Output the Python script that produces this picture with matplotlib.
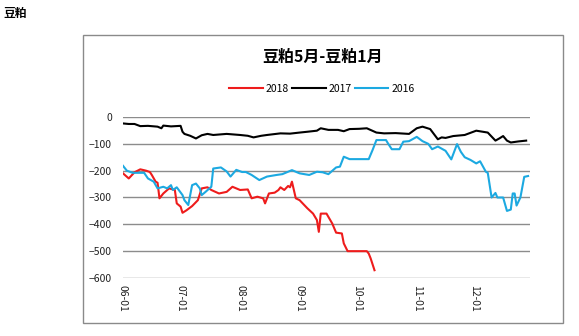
import matplotlib
matplotlib.use("Agg")
import matplotlib.pyplot as plt
import matplotlib.dates as mdates
import pandas as pd
from matplotlib.patches import Rectangle
from matplotlib.lines import Line2D

plt.rcParams['font.family'] = ['Noto Sans CJK SC', 'DejaVu Sans']

# Spread: soybean meal May contract minus January contract, by calendar day
dates_2018 = ["06-01", "06-04", "06-07", "06-10", "06-13", "06-15", "06-16", "06-18", "06-19",
              "06-20", "06-22", "06-25", "06-28", "06-29", "07-01", "07-02", "07-04", "07-07",
              "07-10", "07-12", "07-15", "07-17", "07-21", "07-25", "07-28", "08-01", "08-05",
              "08-07", "08-10", "08-13", "08-14", "08-16", "08-19", "08-21", "08-22", "08-24",
              "08-26", "08-27", "08-28", "08-30", "09-01", "09-05", "09-08", "09-10", "09-11",
              "09-12", "09-15", "09-18", "09-20", "09-23", "09-24", "09-26", "10-06", "10-07",
              "10-08", "10-10"]
values_2018 = [-210, -229, -206, -195, -200, -205, -216, -241, -245,
               -303, -285, -266, -272, -322, -334, -357, -348, -332,
               -310, -266, -262, -272, -285, -279, -260, -272, -270,
               -303, -297, -303, -322, -285, -282, -272, -262, -272,
               -257, -262, -241, -303, -310, -340, -360, -384, -428,
               -360, -360, -397, -431, -434, -471, -500, -500, -509,
               -527, -571]

dates_2017 = ["06-01", "06-04", "06-07", "06-10", "06-14", "06-19", "06-21", "06-22", "06-26",
              "07-01", "07-02", "07-03", "07-06", "07-09", "07-12", "07-15", "07-18", "07-25",
              "08-01", "08-05", "08-08", "08-12", "08-15", "08-22", "08-27", "09-01", "09-05",
              "09-10", "09-12", "09-16", "09-21", "09-24", "09-27", "10-02", "10-06", "10-11",
              "10-15", "10-21", "10-28", "11-01", "11-04", "11-08", "11-12", "11-14", "11-16",
              "11-20", "11-26", "12-02", "12-08", "12-12", "12-14", "12-16", "12-18", "12-20",
              "12-24", "12-28"]
values_2017 = [-24, -26, -26, -34, -33, -36, -42, -32, -35,
               -33, -55, -63, -70, -80, -68, -63, -67, -63,
               -67, -70, -76, -70, -67, -61, -62, -58, -55,
               -51, -42, -48, -48, -53, -45, -44, -42, -58,
               -61, -60, -63, -42, -36, -45, -83, -76, -78,
               -71, -67, -51, -58, -88, -80, -71, -88, -95,
               -91, -88]

dates_2016 = ["06-01", "06-03", "06-06", "06-09", "06-12", "06-14", "06-17", "06-19", "06-22",
              "06-24", "06-26", "06-27", "06-29", "07-02", "07-03", "07-05", "07-06", "07-07",
              "07-09", "07-11", "07-12", "07-14", "07-16", "07-17", "07-18", "07-22", "07-25",
              "07-27", "07-30", "08-02", "08-04", "08-07", "08-11", "08-15", "08-20", "08-23",
              "08-28", "09-01", "09-06", "09-10", "09-13", "09-16", "09-20", "09-22", "09-24",
              "09-27", "10-07", "10-09", "10-11", "10-16", "10-17", "10-19", "10-23", "10-25",
              "10-28", "11-01", "11-04", "11-07", "11-09", "11-12", "11-16", "11-19", "11-22",
              "11-24", "11-26", "11-29", "12-02", "12-04", "12-07", "12-08", "12-10", "12-12",
              "12-13", "12-16", "12-18", "12-20", "12-21", "12-22", "12-23", "12-25", "12-27",
              "12-29"]
values_2016 = [-182, -200, -208, -208, -208, -229, -241, -266, -260,
               -266, -254, -272, -262, -291, -310, -328, -291, -254,
               -248, -266, -291, -279, -266, -260, -192, -188, -203,
               -222, -197, -205, -205, -216, -235, -222, -216, -213,
               -198, -210, -216, -204, -206, -213, -188, -185, -148,
               -157, -157, -123, -86, -86, -98, -120, -120, -92,
               -90, -74, -90, -100, -120, -110, -126, -158, -101,
               -130, -150, -160, -173, -165, -204, -208, -300, -283,
               -300, -300, -350, -345, -285, -285, -330, -300, -223,
               -220]

series = [("2018", dates_2018, values_2018, "#ee1c1c"),
          ("2017", dates_2017, values_2017, "#000000"),
          ("2016", dates_2016, values_2016, "#1ca9e1")]
y_ticks = [0, -100, -200, -300, -400, -500, -600]


def to_dates(md):
    return pd.to_datetime(["2001-" + s for s in md])


W, H = 579, 336
fig = plt.figure(figsize=(W / 100, H / 100), dpi=100)

# page label
fig.text(3 / W, 1 - 13 / H, "豆粕", fontsize=8.5, fontweight="bold", va="center", ha="left")

# chart frame
fig.patches.append(Rectangle((83 / W, 1 - 323 / H), (563 - 83) / W, (323 - 35) / H,
                             transform=fig.transFigure, fill=False, edgecolor="#8a8a8a",
                             linewidth=1.0))

fig.text(323 / W, 1 - 57 / H, "豆粕5月-豆粕1月", fontsize=11.5, fontweight="bold",
         ha="center", va="center")

ax = fig.add_axes([123 / W, 1 - 278 / H, (530 - 123) / W, (278 - 117) / H])

for name, d, v, c in series:
    ax.plot(to_dates(d), v, color=c, linewidth=1.5, label=name, solid_joinstyle="round")

ax.set_ylim(-600, 0)
ax.set_yticks(y_ticks)
ax.set_xlim(pd.Timestamp("2001-06-01"), pd.Timestamp("2001-12-30"))
ax.xaxis.set_major_locator(mdates.MonthLocator())
ax.xaxis.set_major_formatter(mdates.DateFormatter("%m-%d"))
ax.grid(axis="y", color="#8c8c8c", linewidth=1.0)
ax.set_axisbelow(True)
for s in ax.spines.values():
    s.set_visible(False)
ax.tick_params(axis="both", length=0, labelsize=7.5, colors="#222222")
ax.tick_params(axis="y", pad=8)
ax.tick_params(axis="x", pad=5)
for lab in ax.get_xticklabels():
    lab.set_rotation(270)
    lab.set_ha("center")
    lab.set_va("top")

handles = [Line2D([0], [0], color=c, linewidth=1.5) for _, _, _, c in series]
fig.legend(handles, [n for n, _, _, _ in series], loc="center", ncol=3,
           bbox_to_anchor=(322 / W, 1 - 89 / H), frameon=False, fontsize=7.5,
           handlelength=3.2, handletextpad=0.3, columnspacing=0.3)

fig.savefig("out.png", dpi=100)
